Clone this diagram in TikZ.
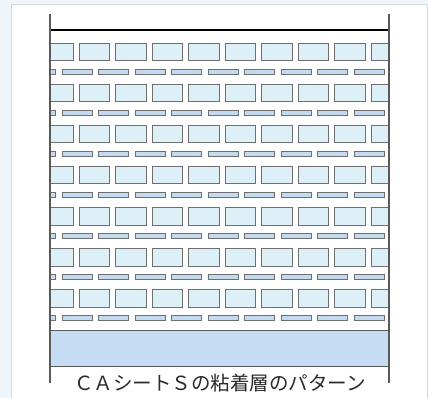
\documentclass[tikz,border=0pt]{standalone}
\usepackage{fontspec}
\newfontfamily\cjk{Noto Sans CJK JP}
\definecolor{bgblue}{HTML}{EEF6FC}
\definecolor{panelborder}{HTML}{D6D9DC}
\definecolor{bigfill}{HTML}{DDEFF7}
\definecolor{smallfill}{HTML}{C3DAF0}
\definecolor{bandfill}{HTML}{C6DCF2}
\definecolor{rectline}{HTML}{6F6F6F}
\definecolor{sideline}{HTML}{5A5A5A}
\definecolor{captext}{HTML}{2A2A2A}
\tikzset{
  bigcell/.style={draw=rectline, fill=bigfill, line width=1pt},
  smallcell/.style={draw=rectline, fill=smallfill, line width=1pt},
  band/.style={draw=sideline, fill=bandfill, line width=1pt},
  side/.style={draw=sideline, line width=1.4pt},
  caption/.style={font=\cjk\fontsize{19.5}{20}\selectfont, inner sep=0pt, text=captext}
}
\begin{document}
\begin{tikzpicture}[x=1pt, y=-1pt]
\useasboundingbox (0,0) rectangle (428,398);
\fill[bgblue] (0,0) rectangle (428,398);
\fill[white] (11,5) rectangle (427,399);
\draw[panelborder, line width=1pt] (11,399) -- (11,5) -- (427,5) -- (427,399);
% cells
\begin{scope}
\clip (50,35) rectangle (389,328);
\foreach \k in {0,...,6} {
  \foreach \j in {0,...,9} {
    \path[bigcell] ({42.5+36.5*\j},{43.5+41*\k}) rectangle ++(30.5,17.5);
  }
  \foreach \j in {0,...,10} {
    \path[smallcell] ({25.5+36.5*\j},{69.2+41*\k}) rectangle ++(30,5.5);
  }
}
\end{scope}
% bottom band
\path[band] (50,330) rectangle (389,366);
% top line
\draw[black, line width=1.2pt] (50,30) -- (389,30);
% side lines
\coordinate (lt) at (50,14);
\coordinate (lb) at (50,383);
\coordinate (rt) at (389,14);
\coordinate (rb) at (389,383);
\draw[side] (lt) -- (lb);
\draw[side] (rt) -- (rb);
\node[caption] (cap) at (220,383) {ＣＡシートＳの粘着層のパターン};
\end{tikzpicture}
\end{document}
